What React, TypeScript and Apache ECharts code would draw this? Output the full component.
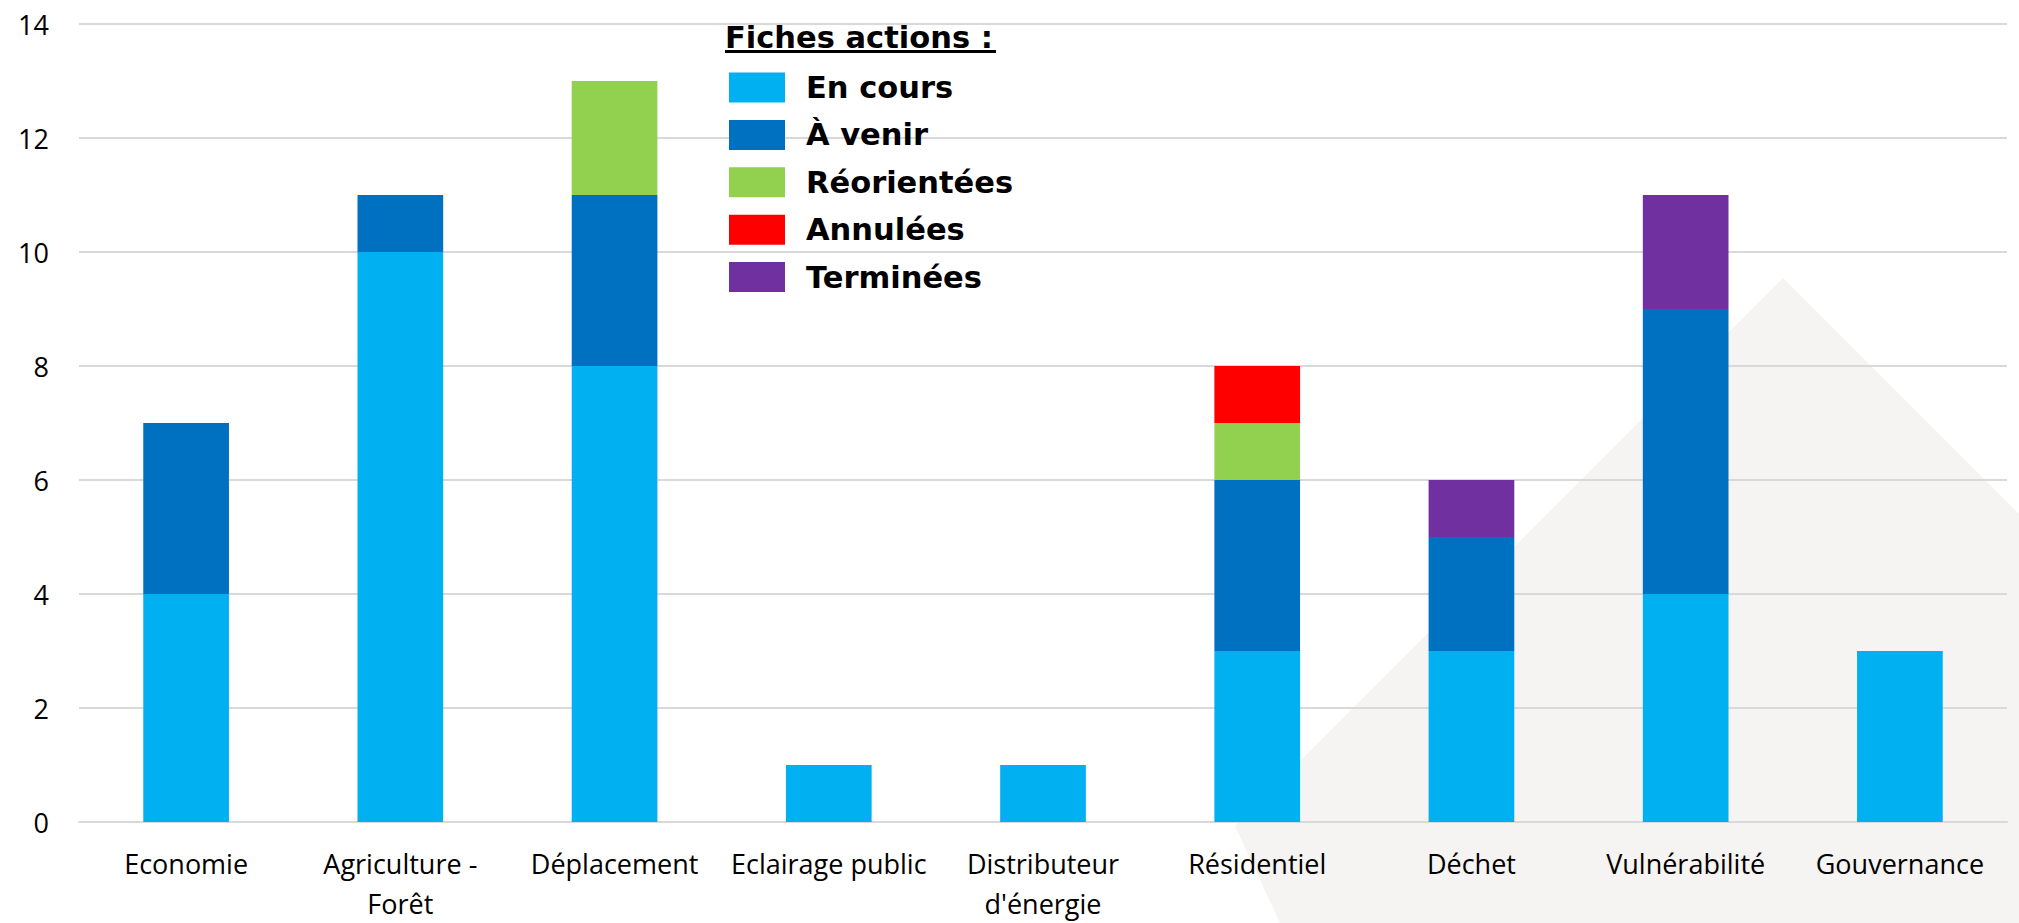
import React, { useEffect, useRef } from "react";
import * as echarts from "echarts";

const categories = [
  "Economie",
  "Agriculture -\nForêt",
  "Déplacement",
  "Eclairage public",
  "Distributeur\nd'énergie",
  "Résidentiel",
  "Déchet",
  "Vulnérabilité",
  "Gouvernance",
];

const enCours = [4, 10, 8, 1, 1, 3, 3, 4, 3];
const aVenir = [3, 1, 3, 0, 0, 3, 2, 5, 0];
const reorientees = [0, 0, 2, 0, 0, 1, 0, 0, 0];
const annulees = [0, 0, 0, 0, 0, 1, 0, 0, 0];
const terminees = [0, 0, 0, 0, 0, 0, 1, 2, 0];

const seriesNames = ["En cours", "À venir", "Réorientées", "Annulées", "Terminées"];
const seriesColors = ["#00B0F0", "#0070C0", "#92D050", "#FF0000", "#7030A0"];
const seriesData = [enCours, aVenir, reorientees, annulees, terminees];

const yTicks = [0, 2, 4, 6, 8, 10, 12, 14];

export default function App() {
  const ref = useRef<HTMLDivElement>(null);

  useEffect(() => {
    if (!ref.current) return;
    const chart = echarts.init(ref.current, undefined, { renderer: "svg" });
    const labelFont = "'Open Sans', sans-serif";
    const boldFont = "'DejaVu Sans', Verdana, sans-serif";

    chart.setOption({
      animation: false,
      backgroundColor: "#ffffff",
      grid: { left: 79, top: 24, width: 1928, height: 800, containLabel: false },
      legend: {
        orient: "vertical",
        left: 729,
        top: 72,
        padding: 0,
        itemWidth: 56,
        itemHeight: 30,
        itemGap: 16.4,
        icon: "rect",
        selectedMode: false,
        data: seriesNames,
        textStyle: {
          fontFamily: boldFont,
          fontWeight: "bold",
          fontSize: 30.5,
          color: "#000000",
          lineHeight: 30,
          padding: [0, 0, 0, 16],
        },
      },
      xAxis: {
        type: "category",
        data: categories,
        axisTick: { show: false },
        axisLine: { show: true, lineStyle: { color: "#D9D9D9", width: 2 } },
        axisLabel: {
          interval: 0,
          margin: 21,
          fontFamily: labelFont,
          fontSize: 27,
          lineHeight: 40,
          color: "#000000",
        },
      },
      yAxis: {
        type: "value",
        min: yTicks[0],
        max: yTicks[yTicks.length - 1],
        interval: 2,
        axisLine: { show: false },
        axisTick: { show: false },
        splitLine: { lineStyle: { color: "#D9D9D9", width: 2 } },
        axisLabel: {
          margin: 30,
          fontFamily: labelFont,
          fontSize: 27,
          color: "#000000",
        },
      },
      graphic: [
        {
          type: "polygon",
          z: -10,
          silent: true,
          shape: {
            points: [
              [1783, 278],
              [2019, 514],
              [2019, 923],
              [1280, 923],
              [1235, 826],
            ],
          },
          style: { fill: "#F5F4F2" },
        },
        {
          type: "text",
          left: 725,
          top: 22,
          style: {
            text: "Fiches actions :",
            font: `bold 30.5px ${boldFont}`,
            fill: "#000000",
          },
        },
        {
          type: "rect",
          shape: { x: 725, y: 50, width: 271, height: 3 },
          style: { fill: "#000000" },
        },
      ],
      series: seriesNames.map((name, i) => ({
        name,
        type: "bar",
        stack: "total",
        barWidth: "40%",
        itemStyle: { color: seriesColors[i] },
        data: seriesData[i].map((v) => (v === 0 ? null : v)),
      })),
    });

    return () => chart.dispose();
  }, []);

  return (
    <div
      ref={ref}
      style={{ position: "fixed", left: 0, top: 0, width: 2019, height: 923 }}
    />
  );
}
